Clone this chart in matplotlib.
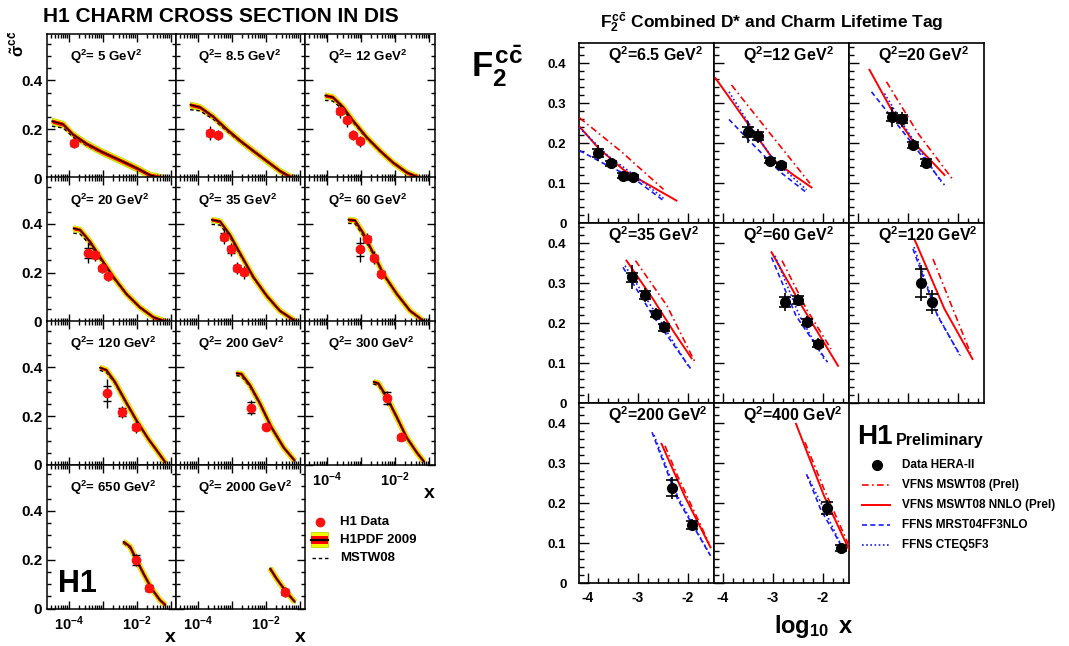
import numpy as np
import matplotlib
matplotlib.use("Agg")
import matplotlib.pyplot as plt
from matplotlib.patches import Rectangle
from matplotlib.ticker import FixedLocator, LogLocator, MultipleLocator, FuncFormatter, NullFormatter

plt.rcParams["font.family"] = ["Liberation Sans", "DejaVu Sans"]
plt.rcParams["font.weight"] = "bold"
plt.rcParams["mathtext.fontset"] = "custom"
plt.rcParams["mathtext.rm"] = "Liberation Sans:bold"
plt.rcParams["mathtext.it"] = "Liberation Sans:bold"
plt.rcParams["mathtext.bf"] = "Liberation Sans:bold"
plt.rcParams["mathtext.sf"] = "Liberation Sans:bold"

# ---------------- left: reduced charm cross section (log10 x, sigma) ----------------
left_q2 = ["5", "8.5", "12", "20", "35", "60", "120", "200", "300", "650", "2000"]

h1pdf_logx = [
    [-4.49, -4.16, -3.87, -3.47, -2.99, -2.49, -1.99, -1.61, -1.22],
    [-4.22, -3.93, -3.53, -3.15, -2.75, -2.36, -1.97, -1.58, -1.28, -1.14],
    [-4.06, -3.83, -3.53, -3.24, -2.83, -2.44, -2.06, -1.65, -1.27],
    [-3.86, -3.66, -3.37, -3.08, -2.68, -2.30, -1.90, -1.50, -1.15],
    [-3.59, -3.34, -3.05, -2.75, -2.36, -1.97, -1.58, -1.14],
    [-3.38, -3.18, -2.93, -2.64, -2.35, -1.95, -1.56, -1.17],
    [-3.08, -2.89, -2.64, -2.34, -2.00, -1.65, -1.36, -1.15],
    [-2.86, -2.71, -2.46, -2.16, -1.83, -1.47, -1.14],
    [-2.64, -2.49, -2.25, -1.95, -1.66, -1.36, -1.15],
    [-2.39, -2.19, -2.00, -1.80, -1.56, -1.31, -1.15],
    [-1.87, -1.68, -1.43, -1.14],
]
h1pdf_y = [
    [0.233, 0.220, 0.178, 0.140, 0.105, 0.073, 0.040, 0.012, 0.0],
    [0.300, 0.290, 0.250, 0.200, 0.153, 0.111, 0.070, 0.029, 0.005, 0.0],
    [0.338, 0.331, 0.290, 0.235, 0.166, 0.111, 0.063, 0.022, 0.0],
    [0.382, 0.375, 0.327, 0.265, 0.182, 0.113, 0.058, 0.017, 0.0],
    [0.417, 0.410, 0.355, 0.279, 0.182, 0.106, 0.044, 0.003],
    [0.417, 0.414, 0.360, 0.279, 0.196, 0.113, 0.044, 0.003],
    [0.399, 0.389, 0.341, 0.265, 0.182, 0.106, 0.051, 0.010],
    [0.376, 0.373, 0.327, 0.251, 0.155, 0.072, 0.017],
    [0.341, 0.334, 0.279, 0.196, 0.113, 0.051, 0.014],
    [0.274, 0.253, 0.199, 0.144, 0.082, 0.034, 0.014],
    [0.165, 0.123, 0.075, 0.027],
]
mstw_y = [
    [0.212, 0.205, 0.168, 0.133, 0.100, 0.070, 0.038, 0.011, 0.0],
    [0.280, 0.275, 0.240, 0.193, 0.148, 0.108, 0.068, 0.028, 0.005, 0.0],
    [0.318, 0.315, 0.280, 0.228, 0.161, 0.108, 0.061, 0.021, 0.0],
    [0.362, 0.358, 0.315, 0.257, 0.177, 0.110, 0.056, 0.016, 0.0],
    [0.398, 0.395, 0.345, 0.272, 0.178, 0.103, 0.043, 0.003],
    [0.402, 0.401, 0.350, 0.273, 0.192, 0.111, 0.043, 0.003],
    [0.388, 0.380, 0.335, 0.260, 0.179, 0.104, 0.050, 0.010],
    [0.366, 0.364, 0.320, 0.246, 0.152, 0.071, 0.017],
    [0.332, 0.326, 0.273, 0.192, 0.111, 0.050, 0.014],
    [0.268, 0.247, 0.195, 0.141, 0.081, 0.034, 0.014],
    [0.160, 0.120, 0.074, 0.027],
]
band_outer = [0.014, 0.013, 0.012, 0.011, 0.010, 0.009, 0.007, 0.006, 0.006, 0.005, 0.005]
band_inner = [0.008, 0.007, 0.007, 0.006, 0.006, 0.005, 0.004, 0.004, 0.004, 0.003, 0.003]

h1_logx = [
    [-3.84], [-3.64, -3.41], [-3.62, -3.42, -3.23, -3.03], [-3.44, -3.22, -3.03, -2.83],
    [-3.22, -3.02, -2.83, -2.62], [-3.03, -2.84, -2.62, -2.42], [-2.86, -2.44, -2.02],
    [-2.44, -2.00], [-2.23, -1.83], [-2.02, -1.62], [-1.42],
]
h1_y = [
    [0.145], [0.184, 0.176], [0.276, 0.239, 0.176, 0.150], [0.281, 0.273, 0.218, 0.186],
    [0.348, 0.295, 0.219, 0.201], [0.295, 0.337, 0.262, 0.196], [0.293, 0.217, 0.157],
    [0.235, 0.157], [0.275, 0.113], [0.199, 0.085], [0.068],
]
h1_tot = [
    [0.022], [0.028, 0.022], [0.030, 0.028, 0.020, 0.022], [0.040, 0.025, 0.020, 0.020],
    [0.030, 0.028, 0.025, 0.025], [0.050, 0.025, 0.025, 0.020], [0.060, 0.025, 0.025],
    [0.030, 0.015], [0.030, 0.015], [0.025, 0.015], [0.020],
]
h1_stat = [
    [0.012], [0.012, 0.010], [0.012, 0.010, 0.008, 0.008], [0.020, 0.013, 0.010, 0.008],
    [0.015, 0.015, 0.012, 0.010], [0.025, 0.012, 0.012, 0.010], [0.030, 0.015, 0.012],
    [0.022, 0.010], [0.025, 0.010], [0.022, 0.012], [0.012],
]

# ---------------- right: F2 charm vs log10 x ----------------
right_q2 = ["6.5", "12", "20", "35", "60", "120", "200", "400"]

vfns_logx = [
    [-4.17, -3.79, -3.29, -2.96, -2.23], [-4.15, -3.79, -3.39, -2.99, -2.59, -2.23],
    [-3.77, -3.33, -2.87, -2.27], [-3.23, -2.70, -2.28, -1.93], [-3.03, -2.47, -1.70],
    [-2.86, -2.27, -1.71], [-2.53, -2.07, -1.55], [-2.54, -1.98, -1.47],
]
vfns_y = [
    [0.241, 0.187, 0.133, 0.108, 0.056], [0.362, 0.299, 0.228, 0.158, 0.120, 0.089],
    [0.383, 0.283, 0.199, 0.120], [0.356, 0.260, 0.177, 0.112], [0.377, 0.252, 0.093],
    [0.406, 0.235, 0.110], [0.348, 0.218, 0.089], [0.398, 0.218, 0.081],
]
vfnsp_logx = [
    [-4.17, -3.33, -2.49], [-3.83, -3.06, -2.26], [-3.43, -2.80, -2.10], [-3.05, -2.42, -1.86],
    [-2.82, -2.33, -1.84], [-2.50, -2.15, -1.75], [-2.46, -2.21, -1.58], [-2.36, -1.98, -1.48],
]
vfnsp_y = [
    [0.263, 0.178, 0.084], [0.345, 0.224, 0.099], [0.353, 0.224, 0.108], [0.356, 0.243, 0.102],
    [0.356, 0.235, 0.135], [0.360, 0.250, 0.125], [0.343, 0.268, 0.100], [0.352, 0.235, 0.093],
]
mrst_logx = [
    [-4.17, -3.63, -3.09, -2.49], [-3.88, -3.39, -2.86, -2.33], [-3.73, -3.13, -2.27],
    [-3.30, -2.70, -1.93], [-3.03, -2.54, -1.91], [-2.90, -2.41, -1.95], [-2.72, -2.21, -1.55],
    [-2.33, -2.05, -1.56],
]
mrst_y = [
    [0.181, 0.145, 0.112, 0.056], [0.259, 0.195, 0.128, 0.076], [0.328, 0.233, 0.095],
    [0.339, 0.218, 0.083], [0.364, 0.218, 0.102], [0.385, 0.218, 0.118], [0.377, 0.210, 0.068],
    [0.272, 0.185, 0.077],
]
cteq_logx = [
    [-4.17, -3.60, -3.10, -2.49], [-3.88, -3.53, -2.99, -2.33], [-3.47, -3.07, -2.34],
    [-3.26, -2.70, -2.00], [-2.96, -2.47, -1.98], [-2.88, -2.43, -1.97], [-2.68, -2.20, -1.58],
    [-2.30, -2.00, -1.60],
]
cteq_y = [
    [0.238, 0.168, 0.122, 0.062], [0.328, 0.258, 0.158, 0.083], [0.324, 0.241, 0.103],
    [0.343, 0.235, 0.093], [0.368, 0.218, 0.110], [0.390, 0.225, 0.120], [0.370, 0.215, 0.075],
    [0.265, 0.190, 0.085],
]
hera_logx = [
    [-3.79, -3.53, -3.29, -3.09], [-3.49, -3.29, -3.05, -2.83], [-3.33, -3.13, -2.90, -2.65],
    [-3.11, -2.86, -2.63, -2.48], [-2.75, -2.50, -2.31, -2.10], [-2.74, -2.53],
    [-2.31, -1.92], [-1.91, -1.63],
]
hera_y = [
    [0.176, 0.149, 0.118, 0.114], [0.228, 0.218, 0.156, 0.145], [0.264, 0.259, 0.195, 0.151],
    [0.314, 0.270, 0.222, 0.189], [0.252, 0.258, 0.202, 0.148], [0.300, 0.252],
    [0.237, 0.145], [0.187, 0.087],
]
hera_tot = [
    [0.020, 0.012, 0.010, 0.010], [0.028, 0.018, 0.012, 0.012], [0.025, 0.018, 0.015, 0.012],
    [0.030, 0.018, 0.015, 0.015], [0.022, 0.015, 0.015, 0.015], [0.045, 0.030],
    [0.028, 0.015], [0.020, 0.012],
]
hera_stat = [
    [0.010, 0.006, 0.006, 0.006], [0.012, 0.010, 0.006, 0.006], [0.010, 0.010, 0.008, 0.008],
    [0.012, 0.010, 0.008, 0.008], [0.012, 0.010, 0.008, 0.008], [0.035, 0.020],
    [0.020, 0.010], [0.015, 0.008],
]

W, H = 1069, 646
fig = plt.figure(figsize=(W / 100, H / 100), dpi=100)


def add_px_axes(x0, y0, w, h):
    return fig.add_axes([x0 / W, 1 - (y0 + h) / H, w / W, h / H])


def zero_fmt(v, pos):
    return "0" if abs(v) < 1e-9 else f"{v:.1f}"


def pow_fmt(v, pos):
    e = int(round(np.log10(v)))
    return r"$10^{%d}$" % e if e in (-4, -2) else ""


YELLOW = "#f5f500"

left_cols = [46.5, 175.5, 305]
left_rows = [34, 177.5, 321, 464.5]
for i, q2 in enumerate(left_q2):
    r, c = divmod(i, 3)
    ax = add_px_axes(left_cols[c], left_rows[r], 129.5, 144)
    x = 10.0 ** np.array(h1pdf_logx[i])
    y = np.array(h1pdf_y[i])
    # error band, plus the same band traced as stroked lines so it keeps its width on steep parts
    ax.fill_between(x, y - band_outer[i], y + band_outer[i], color=YELLOW, lw=0.6,
                    edgecolor="#b8e000", zorder=1)
    ax.plot(x, y, color="#b8e000", lw=4.2, solid_capstyle="butt", zorder=1)
    ax.plot(x, y, color=YELLOW, lw=3.6, solid_capstyle="butt", zorder=1)
    ax.plot(x, mstw_y[i], color="k", lw=1.0, ls=(0, (2.5, 2)), zorder=2)
    ax.fill_between(x, y - band_inner[i], y + band_inner[i], color="#ff0000", lw=0, zorder=3)
    ax.plot(x, y, color="#ff0000", lw=2.1, solid_capstyle="butt", zorder=3)
    ax.plot(x, y, color="k", lw=0.9, zorder=4)
    dx = 10.0 ** np.array(h1_logx[i])
    ax.errorbar(dx, h1_y[i], yerr=h1_tot[i], fmt="none", ecolor="k", elinewidth=1.0, zorder=5)
    ax.errorbar(dx, h1_y[i], yerr=h1_stat[i], fmt="none", ecolor="k", elinewidth=0,
                capsize=3, capthick=1.0, zorder=5)
    ax.plot(dx, h1_y[i], "o", color="#ff1010", ms=6, zorder=6)

    ax.set_xscale("log")
    ax.set_xlim(10 ** -4.65, 10 ** -0.84)
    ax.set_ylim(0, 0.59)
    ax.xaxis.set_major_locator(FixedLocator(10.0 ** np.arange(-5, 1)))
    ax.xaxis.set_minor_locator(LogLocator(base=10, subs=np.arange(2, 10), numticks=20))
    ax.xaxis.set_minor_formatter(NullFormatter())
    ax.yaxis.set_major_locator(MultipleLocator(0.2))
    ax.yaxis.set_minor_locator(MultipleLocator(0.05))
    ax.tick_params(which="both", direction="in", top=True, right=True, width=1.0)
    ax.tick_params(which="major", length=5.5)
    ax.tick_params(which="minor", length=2.8)
    if i in (8, 9, 10):
        ax.xaxis.set_major_formatter(FuncFormatter(pow_fmt))
        ax.tick_params(axis="x", labelsize=10.5, pad=4)
    else:
        ax.xaxis.set_major_formatter(NullFormatter())
    if c == 0:
        ax.yaxis.set_major_formatter(FuncFormatter(zero_fmt))
        ax.tick_params(axis="y", labelsize=11, pad=3)
    else:
        ax.yaxis.set_major_formatter(NullFormatter())
    for s in ax.spines.values():
        s.set_linewidth(1.1)
    ax.text(23 / 129.5, 0.84, r"Q$^{2}$= %s GeV$^{2}$" % q2, transform=ax.transAxes,
            fontsize=9.5, fontweight="bold", ha="left", va="center")

right_cols = [579, 714, 849]
right_rows = [43, 223, 403]
for i, q2 in enumerate(right_q2):
    r, c = divmod(i, 3)
    ax = add_px_axes(right_cols[c], right_rows[r], 135, 180)
    ax.plot(vfnsp_logx[i], vfnsp_y[i], color="red", lw=1.2, ls=(0, (4, 2, 1, 2)), zorder=3)
    ax.plot(vfns_logx[i], vfns_y[i], color="red", lw=1.4, zorder=3)
    ax.plot(mrst_logx[i], mrst_y[i], color="#1a1aff", lw=1.2, ls=(0, (3, 2)), zorder=3)
    ax.plot(cteq_logx[i], cteq_y[i], color="#1a1aff", lw=1.2, ls=(0, (1, 1.5)), zorder=3)
    ax.errorbar(hera_logx[i], hera_y[i], yerr=hera_tot[i], fmt="none", ecolor="k",
                elinewidth=1.2, zorder=5)
    ax.errorbar(hera_logx[i], hera_y[i], yerr=hera_stat[i], fmt="none", ecolor="k",
                elinewidth=0, capsize=4, capthick=1.2, zorder=5)
    ax.plot(hera_logx[i], hera_y[i], "o", color="k", ms=7, zorder=6)

    ax.set_xlim(-4.18, -1.48)
    ax.set_ylim(0, 0.45)
    ax.xaxis.set_major_locator(MultipleLocator(1))
    ax.xaxis.set_minor_locator(MultipleLocator(0.2))
    ax.yaxis.set_major_locator(MultipleLocator(0.1))
    ax.yaxis.set_minor_locator(MultipleLocator(0.02))
    ax.tick_params(which="both", direction="in", width=1.0)
    ax.tick_params(which="major", length=7)
    ax.tick_params(which="minor", length=3.6)
    if r == 2:
        ax.xaxis.set_major_formatter(FuncFormatter(lambda v, p: "%d" % round(v)))
        ax.tick_params(axis="x", labelsize=10, pad=6)
    else:
        ax.xaxis.set_major_formatter(NullFormatter())
    if c == 0:
        ax.yaxis.set_major_formatter(FuncFormatter(zero_fmt))
        ax.tick_params(axis="y", labelsize=9.5, pad=9)
    else:
        ax.yaxis.set_major_formatter(NullFormatter())
    for s in ax.spines.values():
        s.set_linewidth(1.2)
    ax.text(29 / 135, 1 - 12 / 180, r"Q$^{2}$=%s GeV$^{2}$" % q2, transform=ax.transAxes,
            fontsize=11.5, fontweight="bold", ha="left", va="center")

# ---------------- text overlay in pixel coordinates ----------------
ov = fig.add_axes([0, 0, 1, 1], zorder=10)
ov.set_xlim(0, W)
ov.set_ylim(H, 0)
ov.axis("off")

ov.text(221, 17, "H1 CHARM CROSS SECTION IN DIS", fontsize=15, fontweight="bold",
        ha="center", va="center")
ov.text(17, 44, r"$\tilde{\sigma}^{c\bar{c}}$", fontsize=12, rotation=90, ha="center", va="center")
ov.text(77, 584, "H1", fontsize=22, fontweight="bold", ha="center", va="center")
ov.text(429, 494, "x", fontsize=14, fontweight="bold", ha="center", va="center")
ov.text(170, 638, "x", fontsize=14, fontweight="bold", ha="center", va="center")
ov.text(300, 638, "x", fontsize=14, fontweight="bold", ha="center", va="center")

# left legend
ov.plot([320], [522], "o", color="#ff1010", ms=6)
ov.add_patch(Rectangle((311, 532), 17, 15, facecolor=YELLOW, edgecolor="#b8e000", lw=0.6))
ov.add_patch(Rectangle((311, 535.5), 17, 8, facecolor="#ff0000", lw=0))
ov.plot([311, 328], [539.5, 539.5], color="k", lw=1.6)
ov.plot([312, 328], [558, 558], color="k", lw=1.0, ls=(0, (2.5, 2)))
for ty, txt in zip([522, 540, 558], ["H1 Data", "H1PDF 2009", "MSTW08"]):
    ov.text(340, ty, txt, fontsize=9.5, fontweight="bold", ha="left", va="center")

# right side titles
ov.text(772, 22, r"$F_{2}^{c\bar{c}}$ Combined D* and Charm Lifetime Tag", fontsize=12.5,
        fontweight="bold", ha="center", va="center")
ov.text(497, 66, r"$F_{2}^{c\bar{c}}$", fontsize=25, ha="center", va="center")
ov.text(814, 626, r"$\log_{10}$ x", fontsize=17, fontweight="bold", ha="center", va="center")

# right legend
ov.text(857, 437, "H1", fontsize=20, fontweight="bold", ha="left", va="center")
ov.text(896, 440, "Preliminary", fontsize=11.5, fontweight="bold", ha="left", va="center")
ov.plot([877], [465], "o", color="k", ms=7)
ov.plot([862, 890], [485, 485], color="red", lw=1.2, ls=(0, (4, 2, 1, 2)))
ov.plot([862, 890], [505, 505], color="red", lw=1.4)
ov.plot([862, 890], [525, 525], color="#1a1aff", lw=1.2, ls=(0, (3, 2)))
ov.plot([862, 890], [545, 545], color="#1a1aff", lw=1.2, ls=(0, (1, 1.5)))
for ty, txt in zip([465, 485, 505, 525, 545],
                   ["Data HERA-II", "VFNS MSWT08 (Prel)", "VFNS MSWT08 NNLO (Prel)",
                    "FFNS MRST04FF3NLO", "FFNS CTEQ5F3"]):
    ov.text(902, ty, txt, fontsize=8.5, fontweight="bold", ha="left", va="center")

fig.savefig("out.png", dpi=100)
